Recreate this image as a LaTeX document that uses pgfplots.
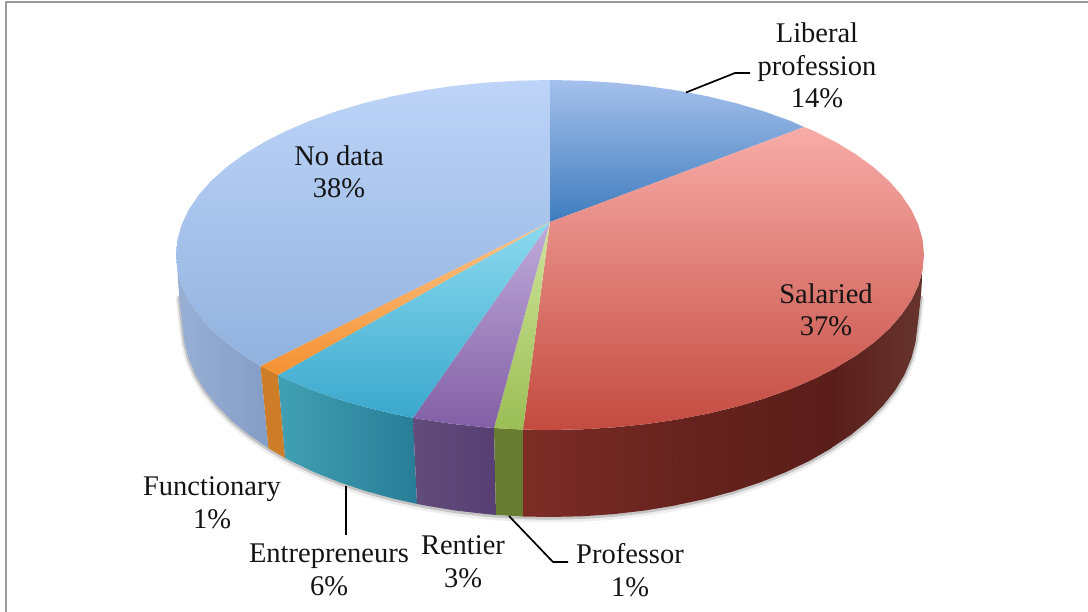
\documentclass[border=0pt]{standalone}
\usepackage{fontspec}
\setmainfont{Liberation Serif}
\usepackage{pgfplots}
\pgfplotsset{compat=1.18}
\definecolor{shA}{RGB}{90,90,90}
\tikzset{lab/.style={font=\fontsize{28.5}{32.5}\selectfont,align=center,inner sep=0pt,text=black!92}}
\begin{document}
\begin{tikzpicture}
\useasboundingbox (0,0) rectangle (1088pt,612pt);
\begin{axis}[
  at={(0,0)},anchor=south west,
  scale only axis,width=1088pt,height=612pt,
  xmin=0,xmax=1088,ymin=0,ymax=612,y dir=reverse,
  hide axis,clip=false,
  every axis plot/.append style={line join=round}
]
% frame
\addplot[draw={rgb,255:red,155;green,155;blue,155},line width=2pt] coordinates {(6,612) (6,2.5) (1088,2.5)};

% soft shadow under the rim
\addplot[draw=shA,opacity=0.10,line width=7pt,yshift=-2pt] coordinates {(921,295) (918.5,318) (915.6,341.7) (911.4,358.3) (904.5,374.7) (894.9,390.7) (882.6,406.1) (867.8,421) (850.6,435.1) (831.1,448.4) (809.5,460.8) (785.9,472.1) (760.5,482.3) (733.5,491.3) (705.1,499) (675.5,505.4) (645,510.5) (613.7,514.1) (582,516.3) (550,517) (523,516.5) (496,514.9) (486.3,514.1) (455,510.5) (424.5,505.4) (417,503.9) (394.9,499) (366.5,491.3) (339.5,482.3) (314.1,472.1) (290.5,460.8) (268.9,448.4) (249.4,435.1) (232.2,421) (217.4,406.1) (205.1,390.7) (195.5,374.7) (188.6,358.3) (184.4,341.7) (181.5,318) (179,295)};
\addplot[draw=shA,opacity=0.28,line width=3.5pt,yshift=-1pt] coordinates {(921,295) (918.5,318) (915.6,341.7) (911.4,358.3) (904.5,374.7) (894.9,390.7) (882.6,406.1) (867.8,421) (850.6,435.1) (831.1,448.4) (809.5,460.8) (785.9,472.1) (760.5,482.3) (733.5,491.3) (705.1,499) (675.5,505.4) (645,510.5) (613.7,514.1) (582,516.3) (550,517) (523,516.5) (496,514.9) (486.3,514.1) (455,510.5) (424.5,505.4) (417,503.9) (394.9,499) (366.5,491.3) (339.5,482.3) (314.1,472.1) (290.5,460.8) (268.9,448.4) (249.4,435.1) (232.2,421) (217.4,406.1) (205.1,390.7) (195.5,374.7) (188.6,358.3) (184.4,341.7) (181.5,318) (179,295)};

% sides
% No data
\addplot[draw=none,left color={rgb,255:red,152;green,176;blue,212},right color={rgb,255:red,132;green,157;blue,198}] coordinates {(177.4,270.3) (181.7,285.4) (188.7,300.3) (198.6,314.9) (211,329) (226.1,342.5) (243.6,355.4) (260.5,366) (268.5,448.2) (249.4,435.1) (232.2,421) (217.4,406.1) (205.1,390.7) (195.5,374.7) (188.6,358.3) (184.4,341.7) (181.5,318) (179,295)} -- cycle;
% Functionary
\addplot[draw=none,fill={rgb,255:red,205;green,125;blue,40}] coordinates {(260.5,366) (263.5,367.5) (278,375) (285,457.9) (268.5,448.2)} -- cycle;
% Entrepreneurs
\addplot[draw=none,left color={rgb,255:red,65;green,160;blue,180},right color={rgb,255:red,40;green,125;blue,150}] coordinates {(278,375) (285.5,378.7) (309.6,389.1) (335.5,398.4) (363,406.6) (391.9,413.6) (413,417.8) (417,503.9) (394.9,499) (366.5,491.3) (339.5,482.3) (314.1,472.1) (290.5,460.8) (285,457.9)} -- cycle;
% Rentier
\addplot[draw=none,left color={rgb,255:red,98;green,76;blue,122},right color={rgb,255:red,88;green,62;blue,115}] coordinates {(413,417.8) (422.1,419.4) (453.2,424) (485.1,427.3) (494,428) (496,514.9) (486.3,514.1) (455,510.5) (424.5,505.4) (417,503.9)} -- cycle;
% Professor
\addplot[draw=none,fill={rgb,255:red,105;green,125;blue,50}] coordinates {(494,428) (523,429.6) (523,516.5) (496,514.9)} -- cycle;
% Salaried, in three facets
\addplot[draw=none,left color={rgb,255:red,125;green,45;blue,38},right color={rgb,255:red,103;green,35;blue,30}] coordinates {(523,429.6) (550,430) (582.6,429.3) (614.9,427.3) (646.8,424) (677.9,419.4) (675.5,505.4) (645,510.5) (613.7,514.1) (582,516.3) (550,517) (523,516.5)} -- cycle;
\addplot[draw=none,left color={rgb,255:red,103;green,35;blue,30},right color={rgb,255:red,90;green,30;blue,26}] coordinates {(677.5,419.4) (708.1,413.6) (737,406.6) (764.5,398.4) (790.4,389.1) (814.5,378.7) (836.5,367.5) (831.1,448.4) (809.5,460.8) (785.9,472.1) (760.5,482.3) (733.5,491.3) (705.1,499) (675,505.4)} -- cycle;
\addplot[draw=none,left color={rgb,255:red,90;green,30;blue,26},right color={rgb,255:red,103;green,52;blue,46}] coordinates {(836,367.5) (856.4,355.4) (873.9,342.5) (889,329) (901.4,314.9) (911.3,300.3) (918.3,285.4) (922.6,270.3) (921,295) (918.5,318) (915.6,341.7) (911.4,358.3) (904.5,374.7) (894.9,390.7) (882.6,406.1) (867.8,421) (850.6,435.1) (830.6,448.4)} -- cycle;

% top surface
% No data (38%)
\addplot[draw=none,top color={rgb,255:red,190;green,212;blue,248},bottom color={rgb,255:red,145;green,178;blue,222}] coordinates {(550,222) (260.5,366) (243.6,355.4) (226.1,342.5) (211,329) (198.6,314.9) (188.7,300.3) (181.7,285.4) (177.4,270.3) (176,255) (177.4,239.7) (181.7,224.6) (188.7,209.7) (198.6,195.1) (211,181) (226.1,167.5) (243.6,154.6) (263.5,142.5) (285.5,131.3) (309.6,120.9) (335.5,111.6) (363,103.4) (391.9,96.4) (422.1,90.6) (453.2,86) (485.1,82.7) (517.4,80.7) (550,80)} -- cycle;
% Liberal profession (14%)
\addplot[draw=none,top color={rgb,255:red,165;green,192;blue,236},bottom color={rgb,255:red,62;green,124;blue,190}] coordinates {(550,222) (550,80) (582.6,80.7) (614.9,82.7) (646.8,86) (677.9,90.6) (708.1,96.4) (737,103.4) (764.5,111.6) (790.4,120.9) (804,127)} -- cycle;
% Salaried (37%)
\addplot[draw=none,top color={rgb,255:red,248;green,172;blue,168},bottom color={rgb,255:red,195;green,75;blue,64}] coordinates {(550,222) (804,127) (814.5,131.3) (836.5,142.5) (856.4,154.6) (873.9,167.5) (889,181) (901.4,195.1) (911.3,209.7) (918.3,224.6) (922.6,239.7) (924,255) (922.6,270.3) (918.3,285.4) (911.3,300.3) (901.4,314.9) (889,329) (873.9,342.5) (856.4,355.4) (836.5,367.5) (814.5,378.7) (790.4,389.1) (764.5,398.4) (737,406.6) (708.1,413.6) (677.9,419.4) (646.8,424) (614.9,427.3) (582.6,429.3) (550,430) (523,429.6)} -- cycle;
% Professor (1%)
\addplot[draw=none,top color={rgb,255:red,208;green,228;blue,155},bottom color={rgb,255:red,155;green,190;blue,85}] coordinates {(550,222) (523,429.6) (494,428)} -- cycle;
% Rentier (3%)
\addplot[draw=none,top color={rgb,255:red,192;green,172;blue,218},bottom color={rgb,255:red,130;green,95;blue,165}] coordinates {(550,222) (494,428) (485.1,427.3) (453.2,424) (422.1,419.4) (413,417.8)} -- cycle;
% Entrepreneurs (6%)
\addplot[draw=none,top color={rgb,255:red,140;green,218;blue,238},bottom color={rgb,255:red,58;green,168;blue,205}] coordinates {(550,222) (413,417.8) (391.9,413.6) (363,406.6) (335.5,398.4) (309.6,389.1) (285.5,378.7) (278,375)} -- cycle;
% Functionary (1%)
\addplot[draw=none,top color={rgb,255:red,252;green,195;blue,135},bottom color={rgb,255:red,245;green,145;blue,50}] coordinates {(550,222) (278,375) (263.5,367.5) (260.5,366)} -- cycle;

% leader lines
\addplot[draw=black,line width=1.7pt] coordinates {(686,92.5) (735,73) (750,73)};
\addplot[draw=black,line width=1.7pt] coordinates {(345.7,486) (345.7,535)};
\addplot[draw=black,line width=1.7pt] coordinates {(509,516) (553,562) (568,562)};

% labels
\node[lab] at (axis cs:817,65.5) {Liberal\\profession\\14\%};
\node[lab] at (axis cs:339,172) {No data\\38\%};
\node[lab] at (axis cs:826,310) {Salaried\\37\%};
\node[lab] at (axis cs:212,503) {Functionary\\1\%};
\node[lab] at (axis cs:329,570) {Entrepreneurs\\6\%};
\node[lab] at (axis cs:463,562) {Rentier\\3\%};
\node[lab] at (axis cs:630,570) {Professor\\1\%};
\end{axis}
\end{tikzpicture}
\end{document}
